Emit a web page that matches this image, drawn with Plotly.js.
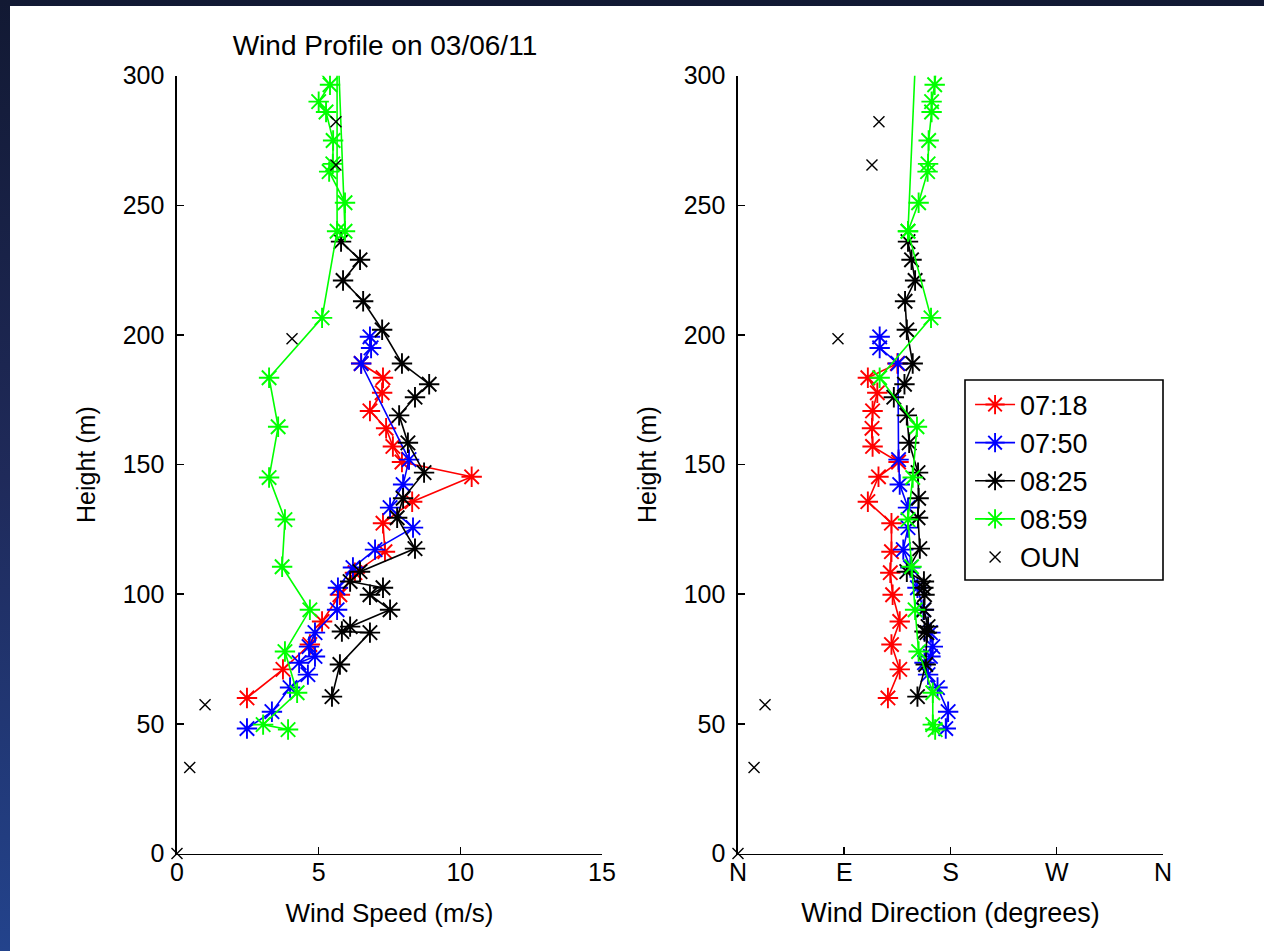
<!DOCTYPE html>
<html>
<head>
<meta charset="utf-8">
<script src="https://cdn.plot.ly/plotly-3.0.1.min.js"></script>
<style>
  html, body { margin:0; padding:0; width:1264px; height:951px; overflow:hidden;
    background: linear-gradient(to bottom, #121933 0%, #1f2a5a 50%, #23438c 100%); }
  #chart { position:absolute; left:10px; top:6px; width:1254px; height:945px; background:#fff; }
</style>
</head>
<body>
<div id="chart"></div>
<script>
// ---- data ----
const seriesNames = ['07:18', '07:50', '08:25', '08:59'];
const seriesColors = ['#ff0000', '#0000ff', '#000000', '#00ff00'];

const h0718   = [60, 71, 80.6, 89.5, 99.8, 108.3, 116.4, 127.4, 135.7, 145.3, 151, 157, 164, 170.7, 177.7, 183.5, 189];
const spd0718 = [2.47, 3.74, 4.69, 5.12, 5.75, 6.28, 7.34, 7.27, 8.3, 10.4, 7.94, 7.62, 7.38, 6.81, 7.24, 7.27, 6.5];
const dir0718 = [127, 137, 130, 137, 131, 129, 130, 130, 110, 119, 136, 114, 113.5, 114, 118, 110, 135];

const h0750   = [48.2, 54.7, 64, 69, 73.6, 76, 79.8, 85.2, 94, 102.5, 110.3, 117.2, 125.7, 133.4, 142.3, 151.9, 189, 195, 199.3];
const spd0750 = [2.47, 3.35, 3.99, 4.62, 4.31, 4.87, 4.66, 4.87, 5.65, 5.68, 6.21, 6.99, 8.33, 7.52, 7.98, 8.19, 6.5, 6.85, 6.81];
const dir0750 = [176, 178, 169, 161, 158, 163, 165, 163, 157, 152, 146, 140, 144, 144, 137, 136, 135.5, 120, 120];

const h0825   = [60.5, 72.9, 85.2, 85.6, 87.5, 94, 99.8, 102.5, 104.9, 108.7, 117.6, 129.5, 137, 146.9, 158.4, 169, 176, 181, 189, 202, 213, 221, 229, 236];
const spd0825 = [5.47, 5.75, 6.81, 5.82, 6.11, 7.52, 6.81, 7.27, 6.11, 6.46, 8.4, 7.77, 7.98, 8.72, 8.15, 7.84, 8.4, 8.9, 7.94, 7.24, 6.57, 5.86, 6.46, 5.79];
const dir0825 = [152, 159, 160, 158, 161, 157.5, 158, 157, 157.5, 143, 154, 152.5, 153, 152.5, 145, 143, 132, 141, 148, 143, 141.5, 150, 147, 144];

const h0859   = [47.8, 49.7, 62, 77.9, 94, 110.6, 128.8, 145, 164.6, 183.5, 206.6, 240, 320, 240, 251, 263, 266, 275, 286, 290, 296.5, 306];
const spd0859 = [3.92, 3.04, 4.24, 3.81, 4.69, 3.71, 3.81, 3.25, 3.57, 3.25, 5.12, 5.65, 5.65, 5.93, 5.93, 5.37, 5.5, 5.51, 5.26, 5.0, 5.4, 4.7];
const dir0859 = [167, 165, 165, 153, 150, 147, 144, 148, 151.6, 120, 163.5, 144, 151.6, 144, 153, 160.6, 161, 161.5, 164, 164, 166.6, 168.5];

const hOUN   = [0, 33.2, 57.4, 198.5, 265.6, 282.2];
const spdOUN = [0, 0.45, 0.99, 4.06, 5.61, 5.61];
const dirOUN = [0, 13.6, 22.9, 84.7, 113.5, 119.4];

const speedTicks = [0, 5, 10, 15];
const dirTickVals = [0, 90, 180, 270, 360];
const dirTickText = ['N', 'E', 'S', 'W', 'N'];
const heightTicks = [0, 50, 100, 150, 200, 250, 300];

// ---- traces ----
const H = [h0718, h0750, h0825, h0859];
const S = [spd0718, spd0750, spd0825, spd0859];
const D = [dir0718, dir0750, dir0825, dir0859];

const traces = [];
for (let i = 0; i < 4; i++) {
  const common = {
    mode: 'lines+markers', name: seriesNames[i], legendgroup: seriesNames[i],
    line: { color: seriesColors[i], width: 1.6 },
    marker: { symbol: 'asterisk-open', size: 17, color: seriesColors[i], line: { color: seriesColors[i], width: 1.9 } }
  };
  traces.push(Object.assign({ type: 'scatter', x: S[i], y: H[i], xaxis: 'x', yaxis: 'y', showlegend: true }, common));
  traces.push(Object.assign({ type: 'scatter', x: D[i], y: H[i], xaxis: 'x2', yaxis: 'y2', showlegend: false }, common));
}
const ounMarker = { symbol: 'x-thin-open', size: 11, color: '#000', line: { color: '#000', width: 1.4 } };
traces.push({ type: 'scatter', mode: 'markers', name: 'OUN', legendgroup: 'OUN', x: spdOUN, y: hOUN,
  xaxis: 'x', yaxis: 'y', marker: ounMarker, cliponaxis: false, showlegend: true });
traces.push({ type: 'scatter', mode: 'markers', name: 'OUN', legendgroup: 'OUN', x: dirOUN, y: hOUN,
  xaxis: 'x2', yaxis: 'y2', marker: ounMarker, cliponaxis: false, showlegend: false });

const fontFam = '"Liberation Sans", Arial, Helvetica, sans-serif';
const axisBase = {
  showline: true, linecolor: '#000', linewidth: 1.6, mirror: false,
  ticks: 'inside', ticklen: 7, tickwidth: 1.5, tickcolor: '#000',
  showgrid: false, zeroline: false, fixedrange: true,
  tickfont: { family: fontFam, size: 25, color: '#000' }
};
const yDomain = [0.10317, 0.92624];

const layout = {
  width: 1254, height: 945,
  margin: { l: 0, r: 0, t: 0, b: 0 },
  paper_bgcolor: '#ffffff', plot_bgcolor: '#ffffff',
  font: { family: fontFam, size: 24, color: '#000' },
  title: { text: 'Wind Profile on 03/06/11', x: 0.299, y: 0.9587, xanchor: 'center', yanchor: 'middle',
           font: { family: fontFam, size: 28, color: '#000' } },
  xaxis: Object.assign({}, axisBase, { domain: [0.13317, 0.47209], range: [0, 15], tickvals: speedTicks,
           anchor: 'y', ticklabelstandoff: -4, title: { text: 'Wind Speed (m/s)', standoff: 18, font: { size: 26 } } }),
  yaxis: Object.assign({}, axisBase, { domain: yDomain, range: [0, 300], tickvals: heightTicks,
           anchor: 'x', ticklabelstandoff: 6, title: { text: 'Height (m)', standoff: 20, font: { size: 25 } } }),
  xaxis2: Object.assign({}, axisBase, { domain: [0.58054, 0.91946], range: [0, 360], tickvals: dirTickVals,
           ticktext: dirTickText, anchor: 'y2', ticklabelstandoff: -4, title: { text: 'Wind Direction (degrees)', standoff: 18, font: { size: 27 } } }),
  yaxis2: Object.assign({}, axisBase, { domain: yDomain, range: [0, 300], tickvals: heightTicks,
           anchor: 'x2', ticklabelstandoff: 6, title: { text: 'Height (m)', standoff: 20, font: { size: 25 } } }),
  showlegend: true,
  legend: { x: 0.7656, y: 0.6037, xanchor: 'left', yanchor: 'top', bgcolor: 'rgba(0,0,0,0)', borderwidth: 0,
            font: { family: fontFam, size: 27, color: '#000' }, tracegroupgap: 0, itemwidth: 40 },
  shapes: [
    { type: 'rect', xref: 'paper', yref: 'paper', x0: 0.76156, x1: 0.91946, y0: 0.39259, y1: 0.60423,
      line: { color: '#000', width: 1.6 }, fillcolor: 'rgba(0,0,0,0)', layer: 'below' }
  ]
};

Plotly.newPlot('chart', traces, layout, { displayModeBar: false, staticPlot: true });
</script>
</body>
</html>
